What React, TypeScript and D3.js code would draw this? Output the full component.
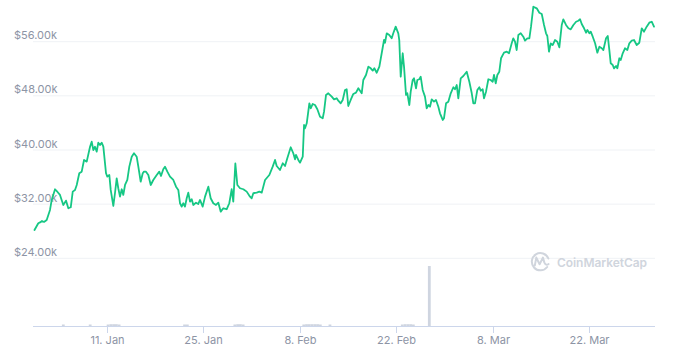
import React from "react";
import * as d3 from "d3";

// Price series: day offsets from 2021-01-01 00:00 UTC, and USD price
const priceDays = [
  -0.48, 0.07, 0.32, 0.61, 0.9, 1.29, 1.77, 2.02, 2.5, 2.86, 3.22, 3.7, 4.09, 4.43, 4.78, 5.07, 5.4, 5.65, 6.02, 6.37,
  6.71, 7.1, 7.58, 7.82, 8.06, 8.3, 8.55, 8.78, 9.03, 9.27, 9.51, 9.9, 10.09, 10.38, 10.58, 10.96, 11.2, 11.45, 11.68, 11.93,
  12.18, 12.41, 12.66, 12.99, 13.28, 13.63, 13.96, 14.35, 14.59, 14.93, 15.23, 15.41, 15.7, 16.04, 16.39, 16.76, 17.26, 17.63, 17.88, 18.21,
  18.46, 18.8, 19.19, 19.67, 20.06, 20.39, 20.64, 20.88, 21.12, 21.36, 21.61, 21.84, 22.09, 22.34, 22.57, 22.96, 23.29, 23.54, 23.93, 24.27,
  24.75, 25.09, 25.47, 25.86, 26.2, 26.55, 26.92, 27.42, 27.79, 28.14, 28.37, 28.67, 28.96, 29.35, 29.83, 30.32, 30.8, 31.04, 31.28, 31.77,
  32.15, 32.5, 32.98, 33.6, 34.09, 34.43, 34.67, 35.15, 35.55, 35.88, 36.21, 36.71, 37.08, 37.33, 37.47, 37.81, 38.06, 38.45, 38.64, 38.78,
  39.03, 39.41, 39.61, 39.9, 40.23, 40.57, 40.96, 41.35, 41.54, 41.83, 42.16, 42.66, 42.99, 43.38, 43.61, 43.96, 44.25, 44.59, 44.83, 45.06,
  45.41, 45.79, 46.18, 46.52, 46.86, 47.01, 47.24, 47.63, 47.97, 48.32, 48.61, 48.84, 49.19, 49.57, 49.91, 50.25, 50.39, 50.64, 51.01, 51.36,
  51.59, 51.94, 52.32, 52.46, 52.67, 52.96, 53.15, 53.44, 53.63, 53.92, 54.12, 54.41, 54.6, 54.89, 55.08, 55.37, 55.57, 55.86, 56.19, 56.44,
  56.68, 56.92, 57.17, 57.5, 57.79, 58.13, 58.37, 58.77, 58.95, 59.25, 59.58, 59.93, 60.31, 60.55, 60.8, 61.03, 61.38, 61.76, 62.25, 62.63,
  62.98, 63.21, 63.45, 63.79, 64.08, 64.28, 64.57, 64.76, 65.05, 65.39, 65.73, 66.02, 66.21, 66.46, 66.69, 66.98, 67.23, 67.66, 68.06, 68.39,
  68.78, 69.01, 69.26, 69.5, 69.74, 70.09, 70.46, 70.71, 71.05, 71.34, 71.58, 71.92, 72.41, 72.79, 73.14, 73.47, 73.76, 73.95, 74.19, 74.44,
  74.73, 75.06, 75.4, 75.69, 76.04, 76.27, 76.66, 77.01, 77.35, 77.73, 78.12, 78.45, 78.7, 78.94, 79.28, 79.57, 79.76, 80.05, 80.25, 80.54,
  80.88, 81.21, 81.5, 81.85, 82.08, 82.47, 82.72, 82.95, 83.15, 83.44, 83.63, 83.92, 84.11, 84.4, 84.6, 84.89, 85.22, 85.56, 85.85, 86.2,
  86.53, 86.92, 87.3, 87.65, 87.98, 88.37, 88.75, 89.1, 89.43,
];

const prices = [
  28190, 29180, 29300, 29520, 29370, 29670, 31140, 32620, 34200, 33800, 33360, 31880, 32520, 31390, 31540, 33850, 34100, 34830, 36560, 36800,
  38530, 38280, 40490, 41230, 40000, 40490, 39750, 41080, 40740, 41080, 40490, 36560, 36060, 36310, 34100, 31730, 33610, 35820, 34350, 33110,
  34200, 33360, 34830, 35570, 37540, 39010, 39520, 39010, 37540, 35320, 36560, 36800, 36800, 36310, 34830, 35570, 36310, 36800, 36160, 37150,
  37540, 36800, 36060, 35570, 34580, 34100, 32130, 31630, 32130, 31630, 32870, 33700, 32370, 32720, 31880, 32220, 32030, 32620, 31630, 33110,
  34580, 32870, 32130, 31880, 32220, 30890, 31390, 31250, 32130, 34200, 32370, 38010, 34830, 34350, 34200, 33850, 33110, 32870, 33610, 33700,
  33850, 33700, 35570, 36310, 37540, 38530, 37640, 37050, 38040, 37640, 38780, 40400, 39520, 38630, 39270, 38530, 38130, 39010, 43700, 43210,
  43950, 46900, 46160, 46800, 46650, 46020, 44920, 44690, 45660, 48130, 48380, 47880, 47490, 47640, 47290, 46900, 47390, 48870, 48970, 46500,
  47390, 48280, 48470, 49120, 48620, 48380, 50340, 51080, 52310, 52070, 51720, 52070, 51420, 52310, 54290, 56250, 55850, 57240, 56990, 56500,
  57240, 58220, 57240, 56250, 50830, 54290, 52310, 48130, 48380, 46650, 48620, 50340, 50590, 49120, 50340, 50450, 50830, 48870, 47880, 46160,
  46650, 46400, 47490, 47140, 47390, 46400, 45420, 44440, 44690, 46900, 47140, 48380, 49270, 48970, 49600, 47640, 50590, 50930, 51570, 50090,
  48380, 46900, 46900, 48870, 49270, 48760, 48970, 47640, 48620, 50450, 50340, 50090, 51080, 49860, 51080, 51570, 53550, 54380, 54520, 54290,
  55760, 56500, 56000, 54770, 56990, 57240, 56740, 56150, 56500, 56500, 58220, 61170, 60930, 60280, 60090, 58470, 57240, 56840, 54520, 55760,
  55510, 56250, 56000, 55170, 58470, 59310, 58470, 57980, 57830, 58470, 58950, 59100, 59310, 58610, 57980, 57330, 57730, 57240, 57480, 56740,
  55760, 54380, 55260, 55030, 54770, 56500, 56840, 54770, 52810, 52560, 52070, 52410, 52070, 53550, 53300, 54290, 55030, 54770, 55760, 56150,
  56250, 55510, 55850, 57980, 57480, 58220, 58810, 58950, 58220,
];

// Volume (relative units), day offsets from 2021-01-01
const volumeDays = [
  3.7, 7.6, 10.2, 10.6, 11.0, 11.4, 11.8, 21.3, 21.7, 28.6, 29.0, 29.4, 29.8, 38.6, 39.0, 39.4, 39.8, 40.2, 40.6, 41.0,
  42.4, 52.9, 53.3, 53.7, 54.1, 54.5, 56.82,
];
const volumes = [
  2.5, 2.5, 2.5, 3, 3, 3, 2.5, 2.5, 2.5, 2.5, 3, 3, 2.5, 2.5, 3, 3, 3, 3, 3, 2.5,
  2.5, 2.5, 3, 3, 3, 2.5, 100,
];

const yTicks = [24000, 32000, 40000, 48000, 56000];
const xTickDates = ["2021-01-11", "2021-01-25", "2021-02-08", "2021-02-22", "2021-03-08", "2021-03-22"];

const BASE = Date.UTC(2021, 0, 1);
const toDate = (d: number) => new Date(BASE + d * 86400000);

export default function App() {
  const W = 680;
  const H = 358;
  const plotLeft = 33;
  const plotRight = 655;
  const axisY = 326;

  const ext = d3.extent(priceDays) as [number, number];
  const x = d3.scaleUtc().domain([toDate(ext[0]), toDate(ext[1])]).range([34.5, 654]);
  const y = d3.scaleLinear().domain([24000, 56000]).range([258.3, 41.7]);
  const vy = d3.scaleLinear().domain([0, 100]).range([axisY, 266]);

  const pts = priceDays.map((d, i) => [toDate(d), prices[i]] as [Date, number]);
  const line = d3
    .line<[Date, number]>()
    .x((p) => x(p[0]))
    .y((p) => y(p[1]));

  const fmtY = (v: number) => `$${(v / 1000).toFixed(2)}k`;
  const fmtX = d3.utcFormat("%-d. %b");
  const font = "Inter, 'Noto Sans', sans-serif";
  const labelColor = "#8d94a5";

  return (
    <div style={{ position: "absolute", left: 0, top: 0, width: W, height: H, background: "#fff" }}>
      <svg width={W} height={H} style={{ display: "block" }}>
        <rect x={0} y={0} width={W} height={H} fill="#fff" />
        {yTicks.map((t) => (
          <g key={t}>
            <line x1={plotLeft} x2={plotRight} y1={y(t)} y2={y(t)} stroke="#eff2f5" strokeWidth={1} />
            <text x={14} y={y(t) - 2.5} fontFamily={font} fontSize={11} fill={labelColor}>
              {fmtY(t)}
            </text>
          </g>
        ))}

        {/* watermark */}
        <g>
          <path
            d="M 547.2 267.0 A 8.6 8.6 0 1 1 548.4 258.5"
            fill="none"
            stroke="#d0d5dd"
            strokeWidth={2}
            strokeLinecap="round"
          />
          <path
            d="M 534.8 265.6 L 536.3 257.6 L 539.6 264.2 L 542.9 257.6 L 544.4 262.6 Q 546 266 548.6 264"
            fill="none"
            stroke="#d0d5dd"
            strokeWidth={2}
            strokeLinejoin="round"
            strokeLinecap="round"
          />
          <text x={557} y={266.5} fontFamily={font} fontSize={12} fontWeight={600} fill="#d0d5dd" textLength={90}>
            CoinMarketCap
          </text>
        </g>

        {/* volume bars */}
        {volumeDays.map((d, i) => (
          <rect
            key={i}
            x={x(toDate(d)) - 1.4}
            y={vy(volumes[i])}
            width={2.8}
            height={axisY - vy(volumes[i])}
            fill="#cfd5e0"
          />
        ))}

        {/* x axis */}
        <line x1={plotLeft} x2={plotRight} y1={axisY + 0.5} y2={axisY + 0.5} stroke="#ccd6eb" strokeWidth={1} />
        {xTickDates.map((s) => {
          const dt = new Date(s + "T00:00:00Z");
          const tx = Math.round(x(dt)) + 0.5;
          return (
            <g key={s}>
              <line x1={tx} x2={tx} y1={axisY} y2={axisY + 7} stroke="#ccd6eb" strokeWidth={1} />
              <text x={tx} y={344} textAnchor="middle" fontFamily={font} fontSize={11} fill={labelColor}>
                {fmtX(dt)}
              </text>
            </g>
          );
        })}

        {/* price line */}
        <path d={line(pts) || ""} fill="none" stroke="#16c784" strokeWidth={1.8} strokeLinejoin="round" strokeLinecap="round" />
      </svg>
    </div>
  );
}
